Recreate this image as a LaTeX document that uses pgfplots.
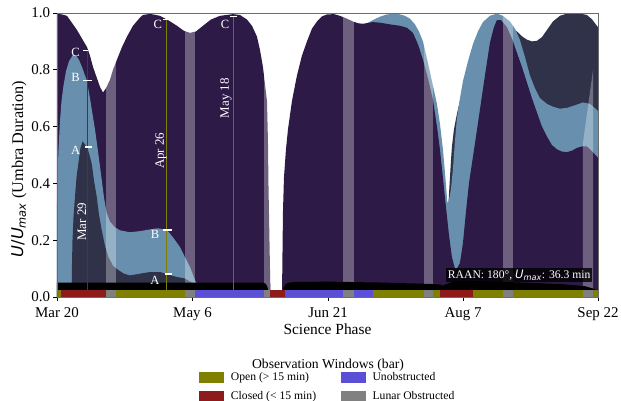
\documentclass[border=0pt]{standalone}
\usepackage{fontspec}
\setmainfont{Liberation Serif}
\newfontfamily\djv{DejaVu Sans}
\usepackage{pgfplots}
\pgfplotsset{compat=1.18}

\definecolor{cpurple}{HTML}{2E1A47}
\definecolor{cnavy}{HTML}{2F3249}
\definecolor{cblue}{HTML}{6890AE}
\definecolor{bolive}{HTML}{808000}
\definecolor{bred}{HTML}{8E1B1B}
\definecolor{bblue}{HTML}{5B4FD6}
\definecolor{bgray}{HTML}{808080}

\newcommand{\Umax}{{\djv\itshape U}\textsubscript{\djv\itshape max}}

\begin{document}
\begin{tikzpicture}
\begin{axis}[name=ax, scale only axis, width=541bp, height=284bp,
  xmin=0, xmax=186, ymin=0, ymax=1, axis on top,
  xtick={0,46.6,93.2,139.6,186}, xticklabels={Mar 20,May 6,Jun 21,Aug 7,Sep 22},
  ytick={0,0.2,0.4,0.6,0.8,1.0},
  yticklabel style={/pgf/number format/fixed, /pgf/number format/precision=1, /pgf/number format/fixed zerofill},
  xticklabel style={yshift=-4bp},
  /pgf/number format/assume math mode=true,
  tick label style={font=\fontsize{15}{18}\selectfont},
  tick align=outside, xtick pos=bottom, ytick pos=left, major tick length=3.5bp,
  tick style={black, line width=0.8bp},
  axis line style={draw=gray!85!black, line width=0.8bp},
  xlabel={Science Phase},
  xlabel style={at={(axis description cs:0.5,-0.1127)}, anchor=center, font=\fontsize{15.5}{18}\selectfont},
  ylabel={{\djv\itshape U}{\djv /}\Umax{} (Umbra Duration)},
  ylabel style={at={(axis description cs:-0.0702,0.45)}, anchor=center, font=\fontsize{16.3}{19}\selectfont},
  legend style={at={(axis description cs:0.2625,-0.259)}, anchor=north west, draw=none, fill=none,
    inner sep=0pt, outer sep=0pt, font=\fontsize{11.7}{14}\selectfont, legend columns=2,
    legend cell align=left, row sep=5bp,
    nodes={inner sep=1.5bp, text height=8.5bp, text depth=2.5bp},
    /tikz/every odd column/.append style={column sep=6bp},
    /tikz/every even column/.append style={column sep=23bp}},
]
% legend entries
\addlegendimage{legend image code/.code={\fill[bolive] (0bp,-5bp) rectangle (24bp,5bp);}}
\addlegendentry{Open (> 15 min)}
\addlegendimage{legend image code/.code={\fill[bblue] (0bp,-5bp) rectangle (24bp,5bp);}}
\addlegendentry{Unobstructed}
\addlegendimage{legend image code/.code={\fill[bred] (0bp,-5bp) rectangle (24bp,5bp);}}
\addlegendentry{Closed (< 15 min)}
\addlegendimage{legend image code/.code={\fill[bgray] (0bp,-5bp) rectangle (24bp,5bp);}}
\addlegendentry{Lunar Obstructed}

% ---------- left segment: C (purple), B (blue), A (navy)
\addplot[fill=cpurple, draw=none] coordinates {(0,0) (0,0.997) (1.72,0.995) (3.44,0.99) (5.16,0.965) (6.88,0.94) (8.59,0.91) (10.31,0.88) (11.34,0.85) (12.38,0.81) (13.75,0.77) (14.78,0.74) (15.81,0.72) (16.84,0.735) (18.22,0.765) (19.25,0.80) (20.63,0.836) (22.34,0.88) (24.06,0.917) (26.13,0.955) (28.53,0.984) (29.56,0.993) (31.97,0.997) (35.41,0.99) (38.16,0.975) (41.25,0.955) (43.66,0.937) (45.72,0.93) (47.78,0.935) (50.19,0.955) (52.94,0.977) (56.03,0.99) (60.5,0.996) (62.91,0.993) (65.31,0.977) (67.03,0.955) (68.75,0.917) (69.78,0.87) (70.81,0.81) (71.5,0.75) (72.19,0.69) (72.53,0.55) (72.7,0.40) (73.05,0.2) (73.4,0)} -- cycle;
\addplot[fill=cblue, draw=none] coordinates {(0,0) (0,0.33) (0.17,0.42) (0.52,0.52) (1.03,0.62) (1.55,0.69) (2.17,0.74) (3.09,0.795) (4.13,0.83) (5.50,0.853) (6.53,0.85) (7.56,0.835) (8.59,0.81) (9.63,0.78) (10.2,0.765) (11.34,0.70) (12.20,0.645) (13.06,0.59) (14.27,0.50) (15.37,0.413) (16.16,0.35) (17.08,0.296) (18.22,0.265) (19.94,0.245) (21.66,0.235) (25.09,0.228) (28.53,0.232) (31.97,0.238) (34.72,0.242) (37.81,0.236) (39.88,0.21) (42.28,0.176) (44.00,0.14) (45.72,0.106) (47.44,0.06) (48.81,0.03) (49.84,0)} -- cycle;
\addplot[fill=cnavy, draw=none] coordinates {(5.0,0) (5.16,0.12) (5.33,0.2) (5.67,0.28) (6.19,0.354) (6.70,0.42) (7.32,0.47) (8.08,0.525) (8.77,0.548) (9.45,0.54) (10.42,0.525) (11.17,0.50) (11.93,0.47) (12.72,0.41) (13.65,0.354) (14.44,0.29) (15.37,0.236) (16.50,0.18) (17.63,0.142) (19.25,0.11) (21.07,0.095) (23.03,0.082) (25.09,0.076) (28.53,0.082) (31.97,0.088) (35.41,0.088) (37.81,0.081) (40.56,0.072) (44.00,0.065) (46.41,0.05) (48.13,0)} -- cycle;

% ---------- right segment: A (navy), B (blue), C (purple)
\addplot[fill=cnavy, draw=none] coordinates {(133.72,0) (134.24,0.25) (134.75,0.36) (135.10,0.42) (135.44,0.48) (135.79,0.53) (136.47,0.59) (137.50,0.645) (139.22,0.72) (141.97,0.81) (145.41,0.88) (148.84,0.93) (152.29,0.95) (155.72,0.95) (158.13,0.935) (159.85,0.918) (161.57,0.906) (163.29,0.9) (165.00,0.902) (166.72,0.915) (168.44,0.94) (170.50,0.97) (172.91,0.99) (175.32,0.998) (177.38,1.0) (179.79,0.998) (182.19,0.993) (183.91,0.978) (186,0.95) (186,0)} -- cycle;
\addplot[fill=cblue, draw=none] coordinates {(104.16,0) (104.16,0.95) (106.22,0.962) (108.63,0.975) (111.03,0.987) (113.44,0.995) (116.88,0.998) (119.63,0.99) (121.35,0.98) (123.07,0.96) (124.44,0.935) (125.82,0.90) (127.19,0.84) (128.91,0.76) (130.63,0.68) (131.66,0.61) (132.69,0.52) (133.54,0.42) (134.07,0.35) (134.24,0.33) (134.75,0.34) (135.44,0.38) (136.13,0.45) (136.82,0.55) (137.50,0.63) (138.54,0.70) (139.57,0.76) (141.29,0.83) (143.00,0.89) (144.72,0.935) (146.44,0.968) (148.84,0.99) (151.25,0.998) (153.32,0.99) (155.72,0.97) (157.44,0.945) (159.16,0.905) (160.88,0.845) (162.60,0.78) (164.32,0.735) (166.04,0.70) (168.44,0.68) (170.50,0.67) (172.91,0.663) (175.32,0.666) (178.07,0.675) (180.82,0.685) (183.22,0.68) (184.94,0.665) (186,0.655) (186,0)} -- cycle;
\addplot[fill=cpurple, draw=none] coordinates {(77.35,0) (77.69,0.30) (78.03,0.42) (78.72,0.52) (79.41,0.59) (80.78,0.69) (82.50,0.78) (84.22,0.85) (85.94,0.90) (87.66,0.945) (89.38,0.97) (91.10,0.988) (92.82,0.995) (95.23,0.996) (97.28,0.99) (99.69,0.98) (101.75,0.97) (103.47,0.964) (105.19,0.962) (106.91,0.965) (108.63,0.968) (111.03,0.966) (114.47,0.96) (117.91,0.955) (120.32,0.948) (122.38,0.93) (124.10,0.89) (125.82,0.836) (127.54,0.77) (129.25,0.695) (130.63,0.60) (131.66,0.52) (132.69,0.42) (133.38,0.35) (134.75,0.22) (135.79,0.14) (136.82,0.10) (137.50,0.10) (138.54,0.12) (139.57,0.19) (140.60,0.30) (141.63,0.40) (142.66,0.47) (143.69,0.54) (145.41,0.66) (147.13,0.78) (148.84,0.895) (150.22,0.95) (151.25,0.975) (152.63,0.975) (154.69,0.95) (156.41,0.91) (158.13,0.86) (159.85,0.81) (161.57,0.755) (163.29,0.70) (165.00,0.65) (166.72,0.60) (168.44,0.565) (170.16,0.535) (171.88,0.52) (173.60,0.512) (175.32,0.51) (177.03,0.515) (178.75,0.525) (180.47,0.53) (182.19,0.53) (183.22,0.52) (184.25,0.51) (186,0.49) (186,0)} -- cycle;

% ---------- lunar obstruction bands
\addplot[fill=white, fill opacity=0.3, draw=none] coordinates {(16.8,0) (16.8,1) (20.3,1) (20.3,0)} -- cycle;
\addplot[fill=white, fill opacity=0.3, draw=none] coordinates {(44.0,0) (44.0,1) (47.4,1) (47.4,0)} -- cycle;
\addplot[fill=white, fill opacity=0.3, draw=none] coordinates {(71.2,0) (71.2,1) (73.2,1) (73.2,0)} -- cycle;
\addplot[fill=white, fill opacity=0.3, draw=none] coordinates {(98.3,0) (98.3,1) (102.1,1) (102.1,0)} -- cycle;
\addplot[fill=white, fill opacity=0.3, draw=none] coordinates {(126.2,0) (126.2,1) (129.3,1) (129.3,0)} -- cycle;
\addplot[fill=white, fill opacity=0.3, draw=none] coordinates {(153.3,0) (153.3,1) (156.8,1) (156.8,0)} -- cycle;
\addplot[fill=white, fill opacity=0.3, draw=none] coordinates {(180.8,0) (180.8,0.54) (184.3,0.80) (184.3,0)} -- cycle;

% ---------- black band
\addplot[fill=black, draw=none] coordinates {(0,0) (0,0.051) (70.47,0.051) (71.5,0.048) (72.0,0.043) (72.35,0.035) (72.6,0.026) (72.7,0)} -- cycle;
\addplot[fill=black, draw=none] coordinates {(77.5,0) (77.7,0.026) (78.0,0.036) (78.5,0.044) (79.41,0.05) (81.82,0.053) (93.85,0.054) (111.03,0.051) (128.22,0.046) (131.66,0.044) (132.69,0.040) (133.72,0.045) (135.1,0.05) (136.82,0.055) (139.57,0.057) (151.25,0.054) (162.6,0.05) (173.94,0.045) (181.5,0.038) (184.25,0.03) (185.3,0.026) (186,0.026) (186,0)} -- cycle;

% ---------- observation window bar
\addplot[fill=bolive, draw=none] coordinates {(0,0) (0,0.026) (1.4,0.026) (1.4,0)} -- cycle;
\addplot[fill=bred, draw=none] coordinates {(1.4,0) (1.4,0.026) (16.8,0.026) (16.8,0)} -- cycle;
\addplot[fill=bgray, draw=none] coordinates {(16.8,0) (16.8,0.026) (20.3,0.026) (20.3,0)} -- cycle;
\addplot[fill=bolive, draw=none] coordinates {(20.3,0) (20.3,0.026) (44.0,0.026) (44.0,0)} -- cycle;
\addplot[fill=bgray, draw=none] coordinates {(44.0,0) (44.0,0.026) (47.4,0.026) (47.4,0)} -- cycle;
\addplot[fill=bblue, draw=none] coordinates {(47.4,0) (47.4,0.026) (71.2,0.026) (71.2,0)} -- cycle;
\addplot[fill=bgray, draw=none] coordinates {(71.2,0) (71.2,0.026) (73.2,0.026) (73.2,0)} -- cycle;
\addplot[fill=bred, draw=none] coordinates {(73.2,0) (73.2,0.026) (78.4,0.026) (78.4,0)} -- cycle;
\addplot[fill=bblue, draw=none] coordinates {(78.4,0) (78.4,0.026) (98.3,0.026) (98.3,0)} -- cycle;
\addplot[fill=bgray, draw=none] coordinates {(98.3,0) (98.3,0.026) (102.1,0.026) (102.1,0)} -- cycle;
\addplot[fill=bblue, draw=none] coordinates {(102.1,0) (102.1,0.026) (108.6,0.026) (108.6,0)} -- cycle;
\addplot[fill=bolive, draw=none] coordinates {(108.6,0) (108.6,0.026) (126.2,0.026) (126.2,0)} -- cycle;
\addplot[fill=bgray, draw=none] coordinates {(126.2,0) (126.2,0.026) (129.3,0.026) (129.3,0)} -- cycle;
\addplot[fill=bolive, draw=none] coordinates {(129.3,0) (129.3,0.026) (131.7,0.026) (131.7,0)} -- cycle;
\addplot[fill=bred, draw=none] coordinates {(131.7,0) (131.7,0.026) (143.0,0.026) (143.0,0)} -- cycle;
\addplot[fill=bolive, draw=none] coordinates {(143.0,0) (143.0,0.026) (153.3,0.026) (153.3,0)} -- cycle;
\addplot[fill=bgray, draw=none] coordinates {(153.3,0) (153.3,0.026) (156.8,0.026) (156.8,0)} -- cycle;
\addplot[fill=bolive, draw=none] coordinates {(156.8,0) (156.8,0.026) (180.8,0.026) (180.8,0)} -- cycle;
\addplot[fill=bgray, draw=none] coordinates {(180.8,0) (180.8,0.026) (184.3,0.026) (184.3,0)} -- cycle;
\addplot[fill=bolive, draw=none] coordinates {(184.3,0) (184.3,0.026) (186,0.026) (186,0)} -- cycle;

% ---------- date lines
\addplot[bred, line width=1bp] coordinates {(10.5,0) (10.5,0.869)};
\addplot[bolive, line width=1bp] coordinates {(37.8,0) (37.8,0.977)};
\addplot[bblue, line width=0.8bp] coordinates {(60.5,0) (60.5,0.989)};
% value ticks
\addplot[white, line width=1.2bp] coordinates {(9.1,0.869) (10.5,0.869)};
\addplot[white, line width=1.2bp] coordinates {(9.1,0.763) (11.9,0.763)};
\addplot[white, line width=1.2bp] coordinates {(9.6,0.528) (11.9,0.528)};
\addplot[white, line width=1.2bp] coordinates {(36.4,0.977) (38.2,0.977)};
\addplot[white, line width=1.2bp] coordinates {(36.4,0.236) (39.5,0.236)};
\addplot[white, line width=1.2bp] coordinates {(37.1,0.081) (39.5,0.081)};
\addplot[white, line width=1.2bp] coordinates {(59.5,0.989) (61.9,0.989)};

\tikzset{lab/.style={text=white, font=\fontsize{12.6}{14}\selectfont, inner sep=0pt}}
\node[lab] at (axis cs:6.4,0.862) {C};
\node[lab] at (axis cs:6.4,0.774) {B};
\node[lab] at (axis cs:6.4,0.518) {A};
\node[lab] at (axis cs:34.7,0.96) {C};
\node[lab] at (axis cs:33.7,0.219) {B};
\node[lab] at (axis cs:33.7,0.06) {A};
\node[lab] at (axis cs:57.75,0.96) {C};
\tikzset{dlab/.style={text=white, rotate=90, font=\fontsize{13}{15}\selectfont, inner sep=0pt}}
\node[dlab] at (axis cs:8.6,0.265) {Mar 29};
\node[dlab] at (axis cs:35.75,0.515) {Apr 26};
\node[dlab] at (axis cs:58.1,0.70) {May 18};

\node[fill=black, fill opacity=0.8, text opacity=1, text=white, font=\fontsize{11.7}{13}\selectfont, inner sep=1.5bp, anchor=south east] at (axis cs:184,0.053) {RAAN: 180°, \Umax: 36.3 min};
\end{axis}
\node[font=\fontsize{13.7}{16}\selectfont] at ([xshift=271bp,yshift=-68bp]ax.south west) {Observation Windows (bar)};
\pgfresetboundingbox
\path[use as bounding box] (ax.south west) ++(-57bp,-104bp) rectangle ++(621bp,401bp);
\end{tikzpicture}
\end{document}
